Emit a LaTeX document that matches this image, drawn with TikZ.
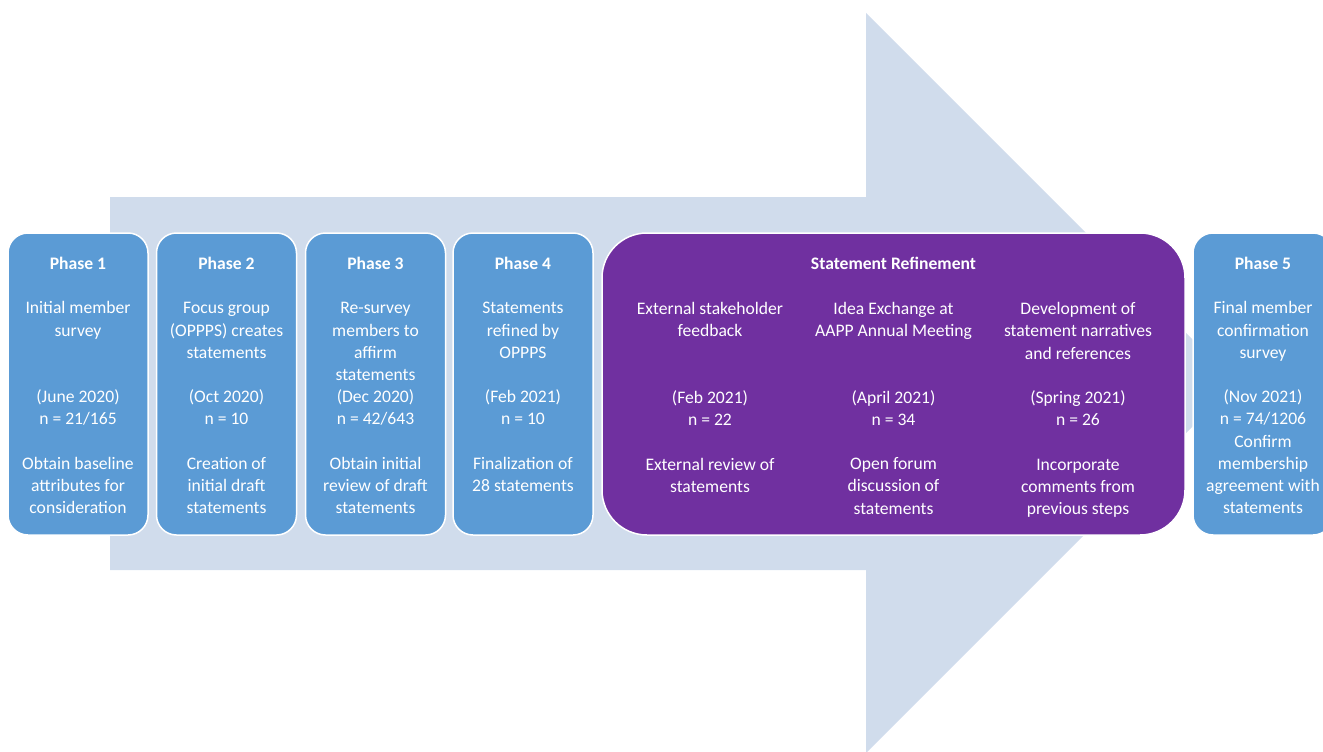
\documentclass[tikz,border=0pt]{standalone}
\usepackage{fontspec}
\setmainfont{Carlito}
\usetikzlibrary{positioning}
\definecolor{arrowFill}{HTML}{D0DCEC}
\definecolor{phaseBlue}{HTML}{5B9BD5}
\definecolor{refinePurple}{HTML}{7030A0}

\begin{document}
\begin{tikzpicture}[x=1pt,y=-1pt,
  box/.style={draw=white, line width=1.5pt, rounded corners=20pt, minimum height=302pt},
  phase/.style={box, fill=phaseBlue, minimum width=140pt},
  refine/.style={box, fill=refinePurple, minimum width=583pt, rounded corners=45pt},
  txt/.style={anchor=north, inner sep=0pt, align=center, text=white,
    font=\fontsize{17.6}{22.2}\selectfont}]
\useasboundingbox (0,0) rectangle (1323,752);
\clip (0,0) rectangle (1323,752);
% big arrow behind
\fill[arrowFill] (110,197) -- (866,197) -- (866,13) -- (1236,383) -- (866,753)
  -- (866,570) -- (110,570) -- cycle;
% boxes
\foreach \i/\cx in {1/78,2/226.5,3/375.5,4/523,5/1263}{
  \node[phase] (p\i) at (\cx,384) {};
}
\node[refine] (sr) at (893.5,384) {};
% phase texts
\node[txt, below=21.5pt of p1.north] (t1) {\strut\textbf{Phase 1}\\ \\Initial member\\survey\\ \\ \\(June 2020)\\n = 21/165\\ \\Obtain baseline\\attributes for\\consideration};
\node[txt, below=21.5pt of p2.north] (t2) {\strut\textbf{Phase 2}\\ \\Focus group\\(OPPPS) creates\\statements\\ \\(Oct 2020)\\n = 10\\ \\Creation of\\initial draft\\statements};
\node[txt, below=21.5pt of p3.north] (t3) {\strut\textbf{Phase 3}\\ \\Re-survey\\members to\\affirm\\statements\\(Dec 2020)\\n = 42/643\\ \\Obtain initial\\review of draft\\statements};
\node[txt, below=21.5pt of p4.north] (t4) {\strut\textbf{Phase 4}\\ \\Statements\\refined by\\OPPPS\\ \\(Feb 2021)\\n = 10\\ \\Finalization of\\28 statements};
\node[txt, below=21.5pt of p5.north] (t5) {\strut\textbf{Phase 5}\\ \\Final member\\confirmation\\survey\\ \\(Nov 2021)\\n = 74/1206\\Confirm\\membership\\agreement with\\statements};
% refinement texts
\node[txt, below=21.5pt of sr.north] (srTitle) {\strut\textbf{Statement Refinement}};
\node[txt, below=22.2pt of srTitle] (c2) {\strut Idea Exchange at\\AAPP Annual Meeting\\ \\ \\(April 2021)\\n = 34\\ \\Open forum\\discussion of\\statements};
\node[txt] (c1) at (710,298.9) {\strut External stakeholder\\feedback\\ \\ \\(Feb 2021)\\n = 22\\ \\External review of\\statements};
\node[txt] (c3) at (1078,298.9) {\strut Development of\\statement narratives\\and references\\ \\(Spring 2021)\\n = 26\\ \\Incorporate\\comments from\\previous steps};
\end{tikzpicture}
\end{document}
